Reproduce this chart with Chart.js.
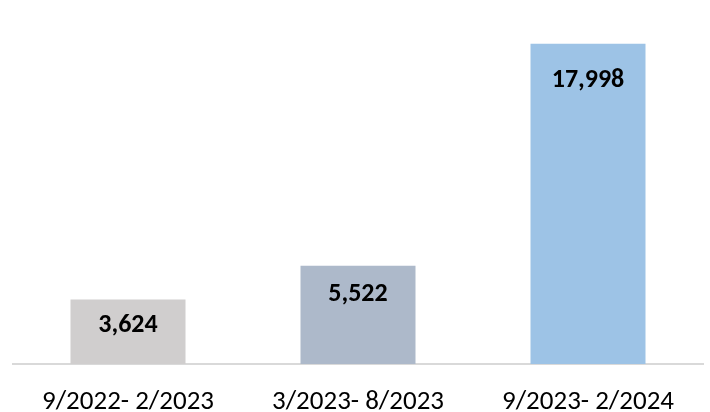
<!DOCTYPE html>
<html>
<head>
<meta charset="utf-8">
<script src="https://cdn.jsdelivr.net/npm/chart.js@4.4.1/dist/chart.umd.min.js"></script>
<style>
  html, body { margin: 0; padding: 0; background: #fff; }
  canvas { display: block; }
</style>
</head>
<body>
<canvas id="periods_bar" width="710" height="412"></canvas>
<script>
var periodLabels = ["9/2022- 2/2023", "3/2023- 8/2023", "9/2023- 2/2024"];
var periodValues = [3624, 5522, 17998];
var barColors = ["#d0cece", "#adb9ca", "#9dc3e6"];
var labelOffsets = [26, 29, 37];

var fontFamily = "Carlito, Calibri, 'Liberation Sans', sans-serif";

// draws the bold numbers just inside the top of each bar
var insideLabels = {
    id: "insideLabels",
    afterDatasetsDraw: function (chart) {
        var ctx = chart.ctx;
        var meta = chart.getDatasetMeta(0);
        ctx.save();
        ctx.font = "bold 26px " + fontFamily;
        ctx.fillStyle = "#000";
        ctx.textAlign = "center";
        ctx.textBaseline = "middle";
        meta.data.forEach(function (bar, i) {
            var txt = periodValues[i].toLocaleString("en-US");
            ctx.fillText(txt, bar.x, bar.y + labelOffsets[i]);
        });
        ctx.restore();
    }
};

var ctx_bar = document.getElementById("periods_bar");
var bar_g = new Chart(ctx_bar, {
    type: "bar",
    data: {
        labels: periodLabels,
        datasets: [{
            data: periodValues,
            backgroundColor: barColors,
            borderWidth: 0,
            barPercentage: 0.5,
            categoryPercentage: 1.0
        }]
    },
    options: {
        responsive: false,
        animation: false,
        layout: { padding: { top: 8, left: 13, right: 7, bottom: 0 } },
        plugins: {
            legend: { display: false },
            tooltip: { enabled: false }
        },
        scales: {
            x: {
                grid: { display: false, drawTicks: false },
                border: { display: true, color: "#d9d9d9", width: 2 },
                ticks: {
                    color: "#000",
                    padding: 25,
                    font: { family: fontFamily, size: 27, lineHeight: 1 }
                },
                afterFit: function (scale) {
                    scale.height = 48;
                }
            },
            y: {
                display: false,
                min: 0,
                max: 20000
            }
        }
    },
    plugins: [insideLabels]
});
</script>
</body>
</html>
